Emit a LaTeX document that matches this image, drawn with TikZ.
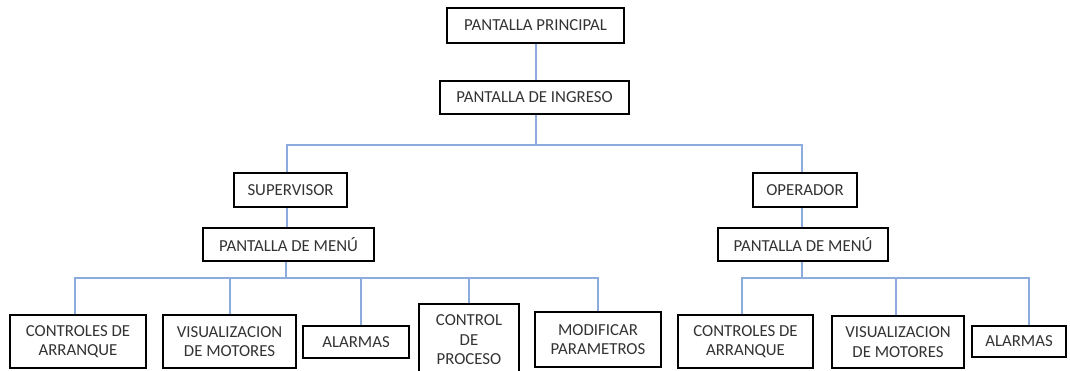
\documentclass[tikz,border=0pt]{standalone}
\usepackage{fontspec}
\setmainfont{Carlito}
\begin{document}
\begin{tikzpicture}[x=1pt,y=-1pt,
  box/.style={draw=black, line width=2.4pt, fill=white, text=black!80,
    font=\fontsize{16.8}{19.5}\selectfont, align=center, inner sep=0pt},
  link/.style={draw=linkblue, line width=1.4pt}]
\definecolor{linkblue}{RGB}{140,172,222}
\useasboundingbox (0,0) rectangle (1070,370);
\clip (0,0) rectangle (1070,370);

% top of the tree
\node[box, minimum width=177pt, minimum height=35pt] (pp) at (535.5,25.5) {PANTALLA PRINCIPAL};
\node[box, minimum width=189pt, minimum height=33pt] (pi) at (534.5,97.5) {PANTALLA DE INGRESO};

% the two user roles
\node[box, minimum width=113pt, minimum height=34pt] (sup) at (290.5,190) {SUPERVISOR};
\node[box, minimum width=171pt, minimum height=33pt] (menuL) at (288.5,244.5) {PANTALLA DE MENÚ};
\node[box, minimum width=104pt, minimum height=34pt] (op) at (805,190) {OPERADOR};
\node[box, minimum width=170pt, minimum height=33pt] (menuR) at (803,244.5) {PANTALLA DE MENÚ};

% supervisor options
\node[box, minimum width=136pt, minimum height=53pt] (caL) at (78,341.5) {CONTROLES DE\\ARRANQUE};
\node[box, minimum width=133pt, minimum height=53pt] (vmL) at (229.5,341.5) {VISUALIZACION\\DE MOTORES};
\node[box, minimum width=106pt, minimum height=32pt] (alL) at (356,342) {ALARMAS};
\node[box, minimum width=100pt, minimum height=72pt] (cp) at (469,340) {CONTROL\\DE\\PROCESO};
\node[box, minimum width=126pt, minimum height=55pt] (mp) at (598,339.5) {MODIFICAR\\PARAMETROS};

% operator options
\node[box, minimum width=135pt, minimum height=53pt] (caR) at (745.5,341.5) {CONTROLES DE\\ARRANQUE};
\node[box, minimum width=132pt, minimum height=52pt] (vmR) at (898,342) {VISUALIZACION\\DE MOTORES};
\node[box, minimum width=94pt, minimum height=31pt] (alR) at (1019,341.5) {ALARMAS};

% bus levels
\coordinate (busTop) at (0,145);
\coordinate (busLow) at (0,278);

% connectors
\draw[link] ([xshift=0.5pt]pp.south) -- ([xshift=0.5pt]pp.south |- pi.north);
\draw[link] ([xshift=0.5pt]pp.south |- pi.south) -- ([xshift=0.5pt]pp.south |- busTop) -| ([xshift=-3.5pt]sup.north);
\draw[link] ([xshift=0.5pt]pp.south |- busTop) -| ([xshift=-3pt]op.north);
\draw[link] ([xshift=-3.5pt]sup.south) -- ([xshift=-3.5pt]sup.south |- menuL.north);
\draw[link] ([xshift=-3pt]op.south) -- ([xshift=-3pt]op.south |- menuR.north);

\draw[link] ([xshift=-2.5pt]menuL.south) -- ([xshift=-2.5pt]menuL.south |- busLow);
\draw[link] ([xshift=-3pt]caL.north) |- (mp.north |- busLow) -- (mp.north);
\draw[link] ([xshift=0.5pt]vmL.north) -- ([xshift=0.5pt]vmL.north |- busLow);
\draw[link] ([xshift=5pt]alL.north) -- ([xshift=5pt]alL.north |- busLow);
\draw[link] (cp.north) -- (cp.north |- busLow);

\draw[link] ([xshift=-1pt]menuR.south) -- ([xshift=-1pt]menuR.south |- busLow);
\draw[link] ([xshift=-3.5pt]caR.north) |- ([xshift=10pt]alR.north |- busLow) -- ([xshift=10pt]alR.north);
\draw[link] ([xshift=-2pt]vmR.north) -- ([xshift=-2pt]vmR.north |- busLow);
\end{tikzpicture}
\end{document}
